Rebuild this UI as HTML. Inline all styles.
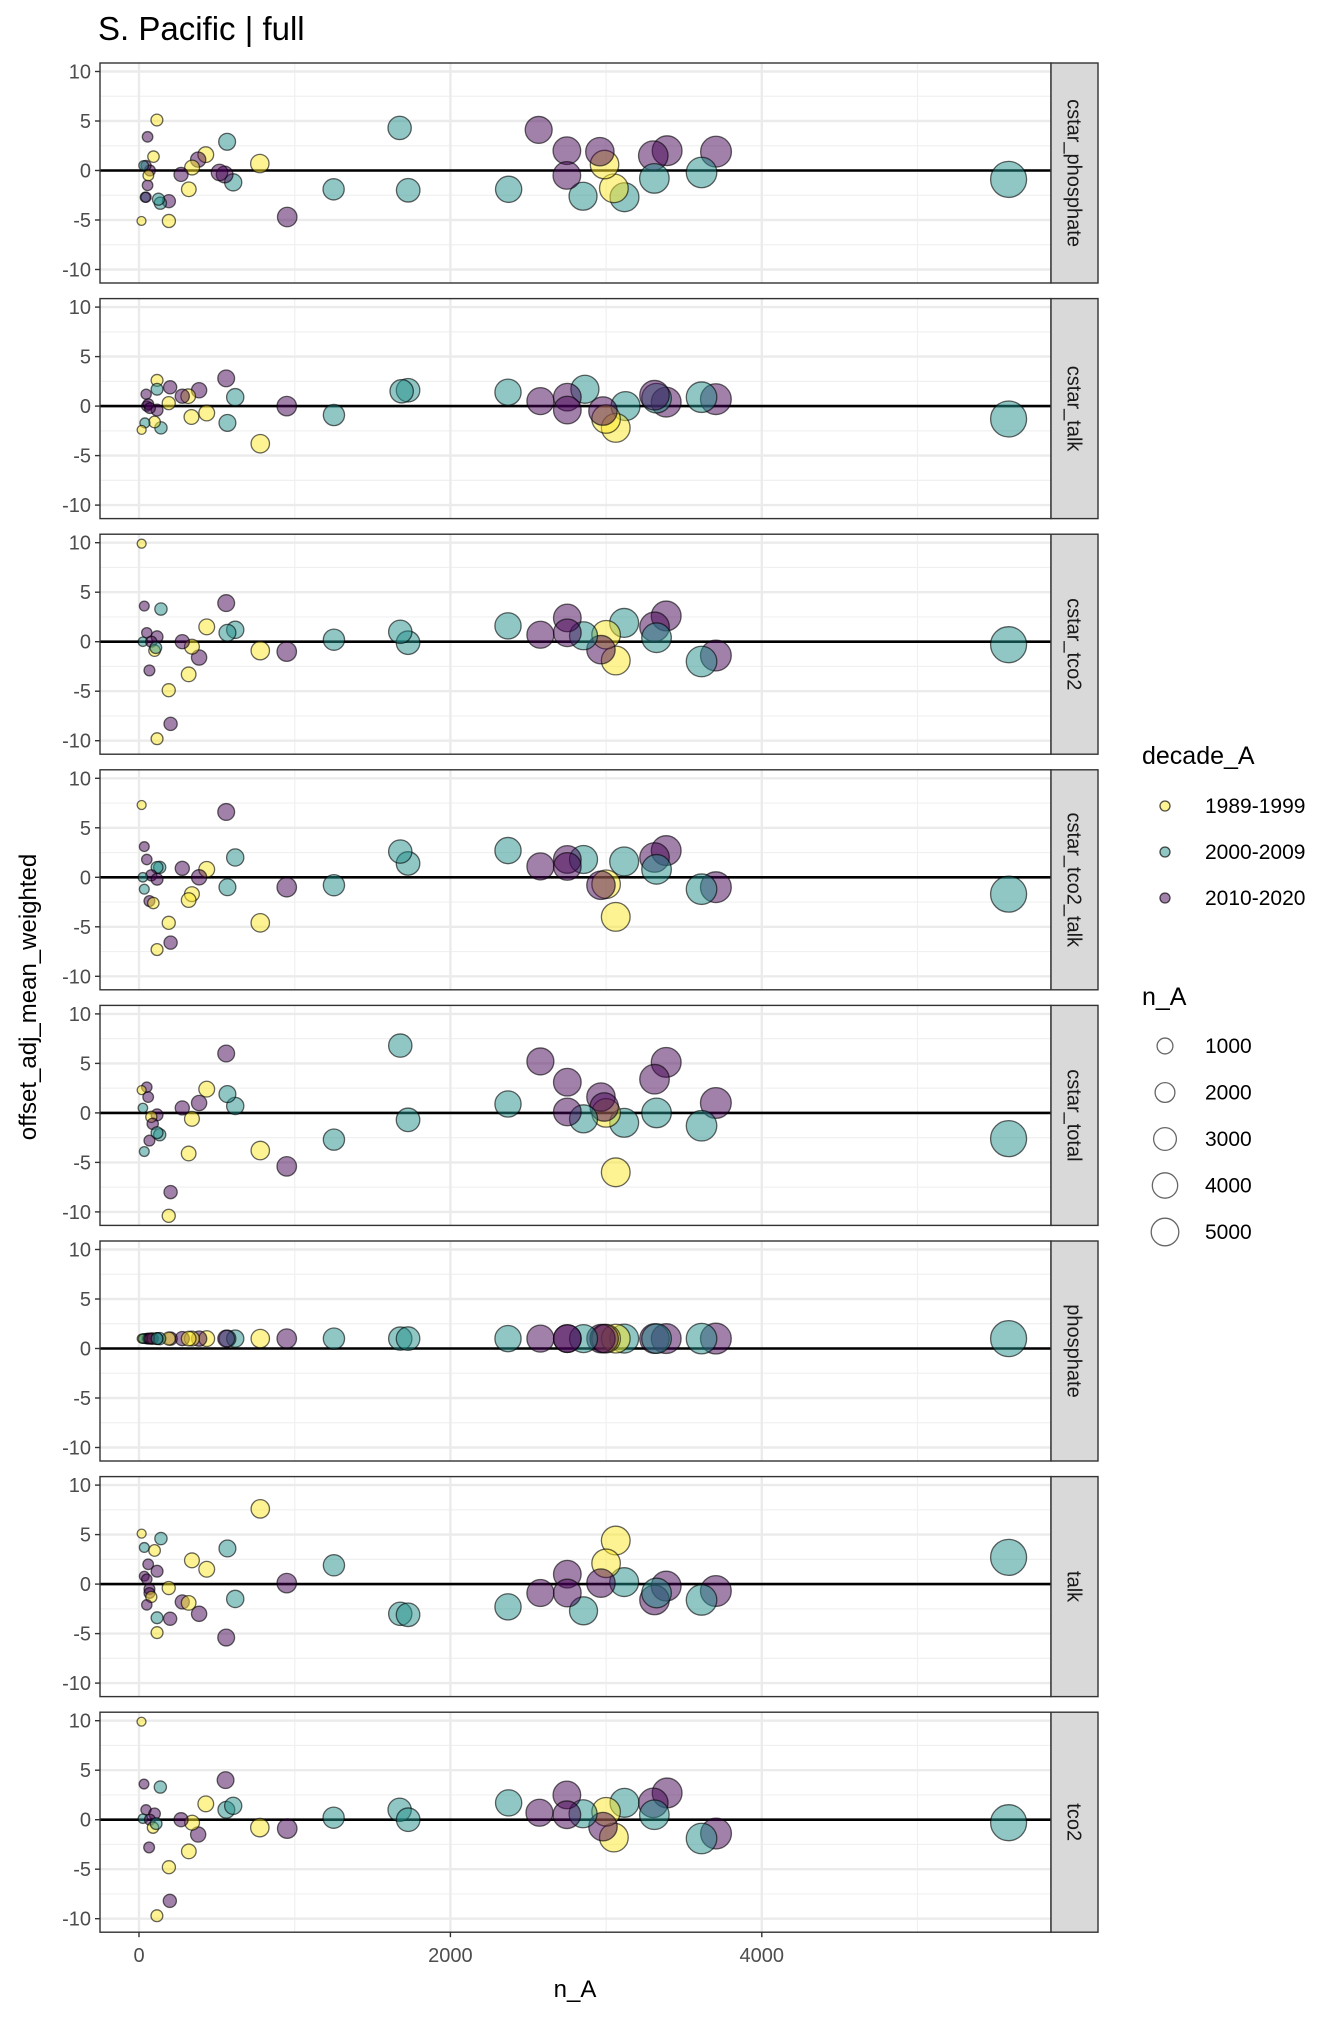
<!DOCTYPE html>
<html><head><meta charset="utf-8"><style>
html,body{margin:0;padding:0;background:#fff;}
svg text{font-family:"Liberation Sans",Arial,sans-serif;}
</style></head><body>
<svg id="chart" xmlns="http://www.w3.org/2000/svg" width="1344" height="2016" viewBox="0 0 1344 2016">
<rect x="0" y="0" width="1344" height="2016" fill="#fff"/>
<text x="98" y="40" font-size="33" fill="#000">S. Pacific | full</text>
<text transform="translate(36,997) rotate(-90)" text-anchor="middle" font-size="24" fill="#000">offset_adj_mean_weighted</text>
<text x="575" y="1997" text-anchor="middle" font-size="24" fill="#000">n_A</text>
<g id="panels"></g>
<g id="legend"></g>
</svg>
<script>
const facetNames = ["cstar_phosphate","cstar_talk","cstar_tco2","cstar_tco2_talk","cstar_total","phosphate","talk","tco2"];
const decadeLabels = ["1989-1999","2000-2009","2010-2020"];
const yTicks = [-10,-5,0,5,10];
const xTicks = [0,2000,4000];
const sizeBreaks = [1000,2000,3000,4000,5000];

const p1_n = [5585,3706,3613,3392,3303,3310,3118,3050,2990,2960,2852,2748,2748,2567,2374,1729,1674,1250,952,776,605,566,550,517,429,380,341,320,270,192,192,137,125,115,55,93,55,40,16,45,70,45,30,60];
const p1_d = ["T","P","T","P","P","T","T","Y","Y","P","T","P","P","P","T","T","T","T","P","Y","T","T","P","P","Y","P","Y","Y","P","P","Y","T","T","Y","P","Y","P","T","Y","P","P","P","T","Y"];
const p1_y = [-0.9,1.9,-0.2,2.0,1.5,-0.8,-2.7,-1.8,0.6,1.9,-2.6,2.0,-0.5,4.1,-1.9,-2.0,4.3,-1.9,-4.7,0.7,-1.2,2.9,-0.4,-0.2,1.6,1.1,0.3,-1.9,-0.4,-3.1,-5.1,-3.3,-2.9,5.1,3.4,1.4,-1.5,-2.7,-5.1,-2.7,0,0.5,0.5,-0.5];

const p2_n = [5585,3705,3613,3386,3324,3311,3125,3062,3000,2980,2864,2751,2751,2578,2370,1728,1687,1252,949,779,618,568,560,386,435,337,316,278,200,191,141,116,116,100,116,38,17,46,50,60,70];
const p2_d = ["T","P","T","P","T","P","T","Y","Y","P","T","P","P","P","T","T","T","T","P","Y","T","T","P","P","Y","Y","Y","P","P","Y","T","Y","T","Y","P","T","Y","P","P","P","P"];
const p2_y = [-1.3,0.7,0.9,0.4,0.8,1.1,0,-2.2,-1.3,-0.5,1.7,0.9,-0.4,0.5,1.4,1.6,1.5,-0.9,0,-3.8,0.9,-1.7,2.8,1.6,-0.7,-1.1,1.0,1.0,1.9,0.3,-2.2,2.6,1.7,-1.6,-0.4,-1.7,-2.4,1.2,0,0.2,-0.2];

const p3_n = [5585,3705,3613,3386,3311,3324,3116,3062,3000,2967,2855,2751,2751,2578,2370,1728,1678,1252,949,779,618,568,560,435,386,340,278,319,191,203,116,141,34,17,67,50,116,25,79,100,108];
const p3_d = ["T","P","T","P","P","T","T","Y","Y","P","T","P","P","P","T","T","T","T","P","Y","T","T","P","Y","P","Y","P","Y","Y","P","Y","T","P","Y","P","P","P","T","P","Y","T"];
const p3_y = [-0.3,-1.4,-2.0,2.6,1.5,0.4,1.9,-1.9,0.7,-0.8,0.6,2.4,0.9,0.7,1.6,-0.1,1.0,0.2,-1.0,-0.9,1.2,0.9,3.9,1.5,-1.6,-0.5,0,-3.3,-4.9,-8.3,-9.8,3.3,3.6,9.9,-2.9,0.9,0.5,0,0,-0.9,-0.6];

const p4_n = [5585,3705,3613,3386,3311,3324,3116,3062,3000,2967,2855,2751,2751,2578,2370,1728,1678,1252,949,779,618,568,560,435,386,340,319,278,191,203,116,133,116,17,34,50,67,92,34,79,25,116];
const p4_d = ["T","P","T","P","P","T","T","Y","Y","P","T","P","P","P","T","T","T","T","P","Y","T","T","P","Y","P","Y","Y","P","Y","P","Y","T","T","Y","P","P","P","Y","T","P","T","P"];
const p4_y = [-1.7,-1.0,-1.2,2.7,2.0,0.8,1.6,-4.0,-0.7,-0.8,1.8,1.8,1.1,1.1,2.7,1.4,2.6,-0.8,-1.0,-4.6,2.0,-1.0,6.6,0.8,0,-1.7,-2.3,0.9,-4.6,-6.6,-7.3,1.0,1.0,7.3,3.1,1.8,-2.4,-2.6,-1.2,0.2,0,-0.2];

const p5_n = [5585,3705,3613,3386,3311,3324,3116,3062,3000,2967,2988,2855,2751,2751,2578,2370,1678,1728,1252,949,779,618,568,560,435,386,340,278,319,203,191,34,50,17,59,25,116,79,88,133,67,116];
const p5_d = ["T","P","T","P","P","T","T","Y","Y","P","P","T","P","P","P","T","T","T","T","P","Y","T","T","P","Y","P","Y","P","Y","P","Y","T","P","Y","P","T","P","Y","P","T","P","T"];
const p5_y = [-2.6,1.0,-1.3,5.1,3.4,0,-1.0,-6.0,0,1.6,0.6,-0.6,3.1,0.1,5.2,0.9,6.8,-0.7,-2.7,-5.4,-3.8,0.7,1.9,6.0,2.4,1.0,-0.6,0.5,-4.1,-8.0,-10.4,-3.9,2.6,2.3,1.6,0.5,-0.2,-0.4,-1.1,-2.2,-2.8,-2.0];

const p6_n = [5585,3705,3613,3386,3311,3324,3116,3062,3000,2967,2988,2855,2751,2751,2578,2370,1678,1728,1252,949,779,618,568,560,435,386,340,278,319,203,191,34,50,17,59,25,116,79,88,133,67,116];
const p6_d = ["T","P","T","P","P","T","T","Y","Y","P","P","T","P","P","P","T","T","T","T","P","Y","T","T","P","Y","P","Y","P","Y","P","Y","T","P","Y","P","T","P","Y","P","T","P","T"];
const p6_y = [1,1,1,1,1,1,1,1,1,1,1,1,1,1,1,1,1,1,1,1,1,1,1,1,1,1,1,1,1,1,1,1,1,1,1,1,1,1,1,1,1,1];

const p7_n = [5585,3705,3613,3386,3311,3324,3116,3062,3000,2967,2855,2751,2751,2578,2370,1678,1728,1252,949,779,568,618,560,435,340,386,278,319,191,200,116,116,141,17,34,100,59,116,34,50,67,67,79,50];
const p7_d = ["T","P","T","P","P","T","T","Y","Y","P","T","P","P","P","T","T","T","T","P","Y","T","T","P","Y","Y","P","P","Y","Y","P","Y","T","T","Y","T","Y","P","P","P","P","P","P","Y","P"];
const p7_y = [2.7,-0.7,-1.6,-0.2,-1.6,-0.9,0.2,4.4,2.1,0.1,-2.7,1.0,-0.9,-0.9,-2.3,-3.0,-3.1,1.9,0.1,7.6,3.6,-1.5,-5.4,1.5,2.4,-3.0,-1.8,-1.9,-0.4,-3.5,-4.9,-3.4,4.6,5.1,3.7,3.4,2.0,1.3,0.8,0.5,-0.5,-0.9,-1.3,-2.1];

const p8_n = [5585,3706,3613,3392,3303,3310,3118,3050,3000,2980,2852,2748,2748,2572,2374,1674,1729,1250,952,776,561,605,556,429,380,320,341,270,192,198,115,137,32,16,65,45,100,25,70,90,110];
const p8_d = ["T","P","T","P","P","T","T","Y","Y","P","T","P","P","P","T","T","T","T","P","Y","T","T","P","Y","P","Y","Y","P","Y","P","Y","T","P","Y","P","P","P","T","P","Y","T"];
const p8_y = [-0.3,-1.4,-1.9,2.7,1.7,0.5,1.7,-1.8,0.8,-0.7,0.6,2.5,0.5,0.7,1.7,1.0,0,0.2,-0.9,-0.8,1.0,1.4,4.0,1.6,-1.5,-3.2,-0.3,0,-4.8,-8.2,-9.7,3.3,3.6,9.9,-2.8,1.0,0.6,0.1,0,-0.8,-0.4];

const NS = "http://www.w3.org/2000/svg";
const PL = 100, PR = 1051, SR = 1098, PT0 = 63, PH = 220, PITCH = 235.6;
const fills = {Y:"rgba(253,231,37,0.5)", T:"rgba(33,144,140,0.5)", P:"rgba(68,1,84,0.5)"};
function xScale(n){ return 139 + n*0.1557; }
function yScale(v, top){ return top + 107.5 - v*9.9; }
function rScale(n){ const t = Math.max(0,(n-10)/(5580-10)); return 4 + 14*Math.sqrt(t); }
function mk(tag, attrs, parent){ const e=document.createElementNS(NS,tag); for(const k in attrs) e.setAttribute(k,attrs[k]); parent.appendChild(e); return e; }

const panelsG = document.getElementById("panels");
const allN = [p1_n,p2_n,p3_n,p4_n,p5_n,p6_n,p7_n,p8_n];
const allD = [p1_d,p2_d,p3_d,p4_d,p5_d,p6_d,p7_d,p8_d];
const allY = [p1_y,p2_y,p3_y,p4_y,p5_y,p6_y,p7_y,p8_y];

facetNames.forEach((name,i)=>{
  const top = PT0 + PITCH*i, bot = top + PH;
  const g = mk("g",{},panelsG);
  
  
  mk("rect",{x:PL,y:top,width:PR-PL,height:PH,fill:"#fff"},g);
  [-7.5,-2.5,2.5,7.5].forEach(v=>{ mk("line",{x1:PL,x2:PR,y1:yScale(v,top),y2:yScale(v,top),stroke:"#f0f0f0","stroke-width":1.2},g); });
  [1000,3000,5000].forEach(v=>{ mk("line",{x1:xScale(v),x2:xScale(v),y1:top,y2:bot,stroke:"#f0f0f0","stroke-width":1.2},g); });
  yTicks.forEach(v=>{ mk("line",{x1:PL,x2:PR,y1:yScale(v,top),y2:yScale(v,top),stroke:"#ebebeb","stroke-width":2.4},g); });
  xTicks.forEach(v=>{ mk("line",{x1:xScale(v),x2:xScale(v),y1:top,y2:bot,stroke:"#ebebeb","stroke-width":2.4},g); });
  mk("line",{x1:PL,x2:PR,y1:yScale(0,top),y2:yScale(0,top),stroke:"#000","stroke-width":2.6},g);
  const ns=allN[i], ds=allD[i], ys=allY[i];
  const m = Math.min(ns.length, ds.length, ys.length);
  for(let k=0;k<m;k++){
    const c = mk("circle",{cx:xScale(ns[k]),cy:yScale(ys[k],top),r:rScale(ns[k]),fill:fills[ds[k]]||fills.T,stroke:"rgba(0,0,0,0.6)","stroke-width":1.3},g);
    
    
  }
  mk("rect",{x:PL,y:top,width:PR-PL,height:PH,fill:"none",stroke:"#333","stroke-width":1.4},g);
  const strip = mk("rect",{x:PR,y:top,width:SR-PR,height:PH,fill:"#d9d9d9",stroke:"#333","stroke-width":1.4},g);
  
  
  const st = mk("text",{transform:`translate(${(PR+SR)/2-7},${top+PH/2}) rotate(90)`,"text-anchor":"middle","font-size":20,fill:"#1a1a1a"},g);
  st.textContent = name;
  
  
  yTicks.forEach(v=>{
    const y=yScale(v,top);
    mk("line",{x1:PL-5,x2:PL,y1:y,y2:y,stroke:"#333","stroke-width":1.4},g);
    const t = mk("text",{x:PL-9,y:y+7,"text-anchor":"end","font-size":20,fill:"#4d4d4d"},g);
    t.textContent = v;
    
    
  });
  if(i===facetNames.length-1){
    xTicks.forEach(v=>{
      const x=xScale(v);
      mk("line",{x1:x,x2:x,y1:bot,y2:bot+5,stroke:"#333","stroke-width":1.4},g);
      const t = mk("text",{x:x,y:bot+30,"text-anchor":"middle","font-size":20,fill:"#4d4d4d"},g);
      t.textContent = v;
      
      
    });
  }
});

const lg = document.getElementById("legend");
const lt = mk("text",{x:1142,y:764,"font-size":25,fill:"#000"},lg);
lt.textContent = "decade_A";


const decKeys = ["Y","T","P"];
decadeLabels.forEach((lab,j)=>{
  const y = 806 + j*46;
  const c = mk("circle",{cx:1165,cy:y,r:5,fill:fills[decKeys[j]],stroke:"rgba(0,0,0,0.7)","stroke-width":1.3},lg);
  
  
  const t = mk("text",{x:1205,y:y+7,"font-size":21,fill:"#000"},lg);
  t.textContent = lab;
  
  
});
const st2 = mk("text",{x:1142,y:1005,"font-size":25,fill:"#000"},lg);
st2.textContent = "n_A";


sizeBreaks.forEach((b,j)=>{
  const y = 1046 + j*46.5;
  const c = mk("circle",{cx:1165,cy:y,r:rScale(b)*0.8,fill:"#fff",stroke:"rgba(0,0,0,0.6)","stroke-width":1.3},lg);
  
  
  const t = mk("text",{x:1205,y:y+7,"font-size":21,fill:"#000"},lg);
  t.textContent = b;
  
  
});
</script>
</body></html>
